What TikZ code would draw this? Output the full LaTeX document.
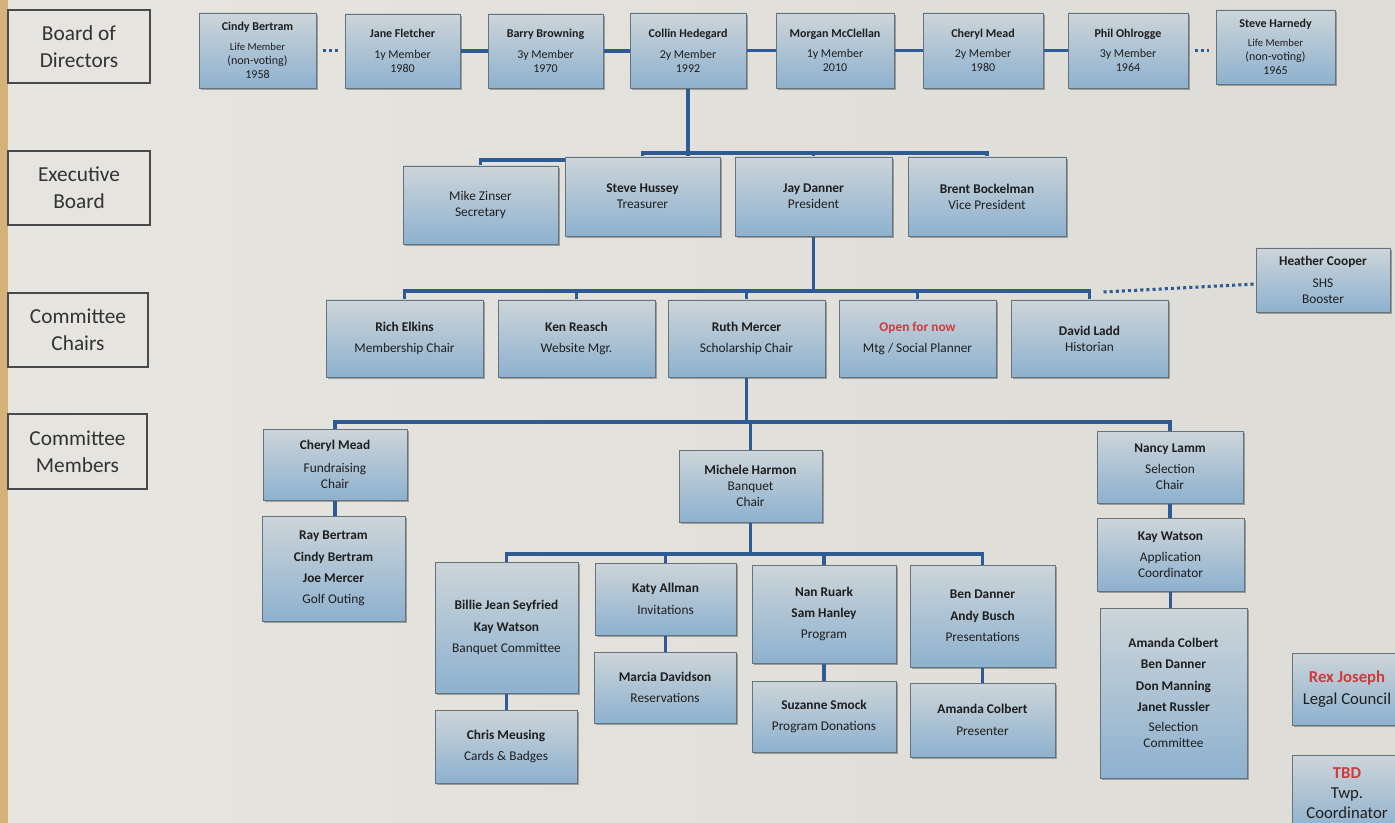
\documentclass[tikz,border=0pt]{standalone}
\usepackage{fontspec}
\setmainfont{Carlito}
\usetikzlibrary{calc}
\definecolor{bgl}{HTML}{E7E5E0}
\definecolor{bgr}{HTML}{DEDCD6}
\definecolor{gold}{HTML}{D4B279}
\definecolor{boxtop}{HTML}{CDD5D9}
\definecolor{boxbot}{HTML}{8DB1CF}
\definecolor{boxedge}{HTML}{66727C}
\definecolor{connc}{HTML}{2E5B94}
\definecolor{redc}{HTML}{D03A3A}
\definecolor{txt}{HTML}{1E1E1E}
\definecolor{lblfill}{HTML}{E6E4DF}
\definecolor{lbledge}{HTML}{4A4A4A}
\definecolor{lbltxt}{HTML}{333333}
\pgfdeclarelayer{bglayer}
\pgfdeclarelayer{shadowl}
\pgfdeclarelayer{lines}
\pgfsetlayers{bglayer,shadowl,lines,main}
\newcommand\Nm[1]{{\bfseries #1}}
\newcommand\Sm{\fontsize{8}{9.5}\selectfont}
\newcommand\OrgBox[7][]{%
  \pgfmathsetmacro\obw{(#5-#3)*0.75}%
  \pgfmathsetmacro\obh{(#6-#4)*0.75}%
  \begin{pgfonlayer}{shadowl}\fill[black,opacity=0.3] (#3+1.8,#4+1.8) rectangle (#5+1.8,#6+1.8);\end{pgfonlayer}%
  \node[orgbox,minimum width=\obw pt,minimum height=\obh pt,#1] (#2) at ({(#3+#5)/2},{(#4+#6)/2}) {#7};}
\newcommand\LblBox[6]{%
  \pgfmathsetmacro\obw{(#4-#2)*0.75}%
  \pgfmathsetmacro\obh{(#5-#3)*0.75}%
  \node[lblbox,minimum width=\obw pt,minimum height=\obh pt] (#1) at ({(#2+#4)/2},{(#3+#5)/2}) {#6};}
\tikzset{
  orgbox/.style={draw=boxedge, line width=0.6pt, top color=boxtop, bottom color=boxbot,
    inner sep=1pt, outer sep=0pt, align=center, text=txt, font=\fontsize{10}{12}\selectfont},
  rowone/.style={font=\fontsize{9}{10.5}\selectfont},
  bigtxt/.style={font=\fontsize{12.5}{15}\selectfont},
  lblbox/.style={draw=lbledge, line width=1pt, fill=lblfill, inner sep=0pt, outer sep=0pt,
    align=center, text=lbltxt, font=\fontsize{16}{20}\selectfont},
  conn/.style={draw=connc, line width=2.3pt},
  dotconn/.style={draw=connc, line width=2.3pt, dash pattern=on 2.3pt off 2.3pt},
}
\begin{document}
\begin{tikzpicture}[x=0.75pt,y=-0.75pt]
\useasboundingbox (0,0) rectangle (1395,823);
\begin{pgfonlayer}{bglayer}
  \fill[left color=bgl, right color=bgr] (0,0) rectangle (1395,823);
  \fill[gold] (0,0) rectangle (8,823);
\end{pgfonlayer}

% level labels
\LblBox{lblBoard}{8}{10}{150}{83}{Board of\\Directors}
\LblBox{lblExec}{8}{151}{150}{225}{Executive\\Board}
\LblBox{lblChairs}{8}{293}{148}{367}{Committee\\Chairs}
\LblBox{lblMembers}{8}{414}{147}{489}{Committee\\Members}

% board of directors
\OrgBox[rowone]{cindy}{199}{13}{316}{88}{\Nm{Cindy Bertram}\\[4pt]\Sm Life Member\\(non-voting)\\1958}
\OrgBox[rowone]{jane}{345}{14}{460}{88}{\Nm{Jane Fletcher}\\[5pt]1y Member\\1980}
\OrgBox[rowone]{barry}{488}{14}{603}{88}{\Nm{Barry Browning}\\[5pt]3y Member\\1970}
\OrgBox[rowone]{collin}{630}{13}{746}{88}{\Nm{Collin Hedegard}\\[5pt]2y Member\\1992}
\OrgBox[rowone]{morgan}{776}{13}{894}{88}{\Nm{Morgan McClellan}\\[5pt]1y Member\\2010}
\OrgBox[rowone]{cheryl}{923}{13}{1043}{88}{\Nm{Cheryl Mead}\\[5pt]2y Member\\1980}
\OrgBox[rowone]{phil}{1068}{13}{1188}{88}{\Nm{Phil Ohlrogge}\\[5pt]3y Member\\1964}
\OrgBox[rowone]{harnedy}{1216}{10}{1335}{84}{\Nm{Steve Harnedy}\\[4pt]\Sm Life Member\\(non-voting)\\1965}

% executive board
\OrgBox{mike}{403}{166}{558}{244}{Mike Zinser\\Secretary}
\OrgBox{hussey}{565}{157}{720}{236}{\Nm{Steve Hussey}\\Treasurer}
\OrgBox{jay}{735}{157}{892}{236}{\Nm{Jay Danner}\\President}
\OrgBox{brent}{908}{157}{1066}{236}{\Nm{Brent Bockelman}\\Vice President}

% committee chairs
\OrgBox{rich}{326}{300}{483}{377}{\Nm{Rich Elkins}\\[4pt]Membership Chair}
\OrgBox{ken}{498}{300}{655}{377}{\Nm{Ken Reasch}\\[4pt]Website Mgr.}
\OrgBox{ruth}{668}{300}{825}{377}{\Nm{Ruth Mercer}\\[4pt]Scholarship Chair}
\OrgBox{openn}{839}{300}{996}{377}{{\color{redc}\bfseries Open for now}\\[4pt]Mtg / Social Planner}
\OrgBox{david}{1011}{300}{1168}{377}{\Nm{David Ladd}\\Historian}
\OrgBox{heather}{1256}{248}{1390}{312}{\Nm{Heather Cooper}\\[4pt]SHS\\Booster}

% committee members
\OrgBox{cherylB}{263}{429}{407}{500}{\Nm{Cheryl Mead}\\[5pt]Fundraising\\Chair}
\OrgBox{ray}{262}{516}{405}{621}{\Nm{Ray Bertram}\\[4pt]\Nm{Cindy Bertram}\\[4pt]\Nm{Joe Mercer}\\[4pt]Golf Outing}
\OrgBox{michele}{679}{450}{822}{522}{\Nm{Michele Harmon}\\Banquet\\Chair}
\OrgBox{nancy}{1097}{431}{1243}{503}{\Nm{Nancy Lamm}\\[4pt]Selection\\Chair}
\OrgBox{kay}{1097}{518}{1244}{591}{\Nm{Kay Watson}\\[4pt]Application\\Coordinator}
\OrgBox{selcom}{1100}{608}{1247}{778}{\Nm{Amanda Colbert}\\[4pt]\Nm{Ben Danner}\\[4pt]\Nm{Don Manning}\\[4pt]\Nm{Janet Russler}\\[3pt]Selection\\Committee}

% banquet sub-committees
\OrgBox{billie}{435}{562}{578}{693}{\Nm{Billie Jean Seyfried}\\[4pt]\Nm{Kay Watson}\\[4pt]Banquet Committee}
\OrgBox{chris}{435}{710}{577}{783}{\Nm{Chris Meusing}\\[4pt]Cards \& Badges}
\OrgBox{katy}{595}{563}{736}{635}{\Nm{Katy Allman}\\[4pt]Invitations}
\OrgBox{marcia}{594}{652}{736}{723}{\Nm{Marcia Davidson}\\[4pt]Reservations}
\OrgBox{nan}{752}{565}{896}{663}{\Nm{Nan Ruark}\\[4pt]\Nm{Sam Hanley}\\[4pt]Program}
\OrgBox{suzanne}{752}{681}{896}{752}{\Nm{Suzanne Smock}\\[4pt]Program Donations}
\OrgBox{ben}{910}{565}{1055}{667}{\Nm{Ben Danner}\\[4pt]\Nm{Andy Busch}\\[4pt]Presentations}
\OrgBox{amanda}{910}{683}{1055}{757}{\Nm{Amanda Colbert}\\[4pt]Presenter}

% side boxes
\OrgBox[bigtxt]{rex}{1292}{653}{1402}{725}{{\color{redc}\bfseries Rex Joseph}\\[2pt]Legal Council}
\OrgBox[bigtxt]{tbd}{1292}{755}{1402}{832}{{\color{redc}\bfseries TBD}\\Twp.\\Coordinator}

\begin{pgfonlayer}{lines}
  % board row
  \draw[dotconn, shorten <=5pt, shorten >=5pt] (cindy.east) -- (cindy.east -| jane.west);
  \draw[conn] (jane.east) -- (jane.east -| barry.west);
  \draw[conn] (barry.east) -- (barry.east -| collin.west);
  \draw[conn] (collin.east) -- (collin.east -| morgan.west);
  \draw[conn] (morgan.east) -- (morgan.east -| cheryl.west);
  \draw[conn] (cheryl.east) -- (cheryl.east -| phil.west);
  \draw[dotconn, shorten <=5pt, shorten >=5pt] (phil.east) -- (phil.east -| harnedy.west);
  % executive
  \coordinate (eb) at ($(collin.south)+(0,65)$);
  \draw[conn] (collin.south) -- (eb);
  \draw[conn] (hussey.north) |- (eb);
  \draw[conn] (jay.north) |- (eb);
  \draw[conn] (brent.north) |- (eb);
  \draw[conn] (collin.south) |- ($(mike.north)+(0,-6)$) -- (mike.north);
  % chairs
  \coordinate (cb) at ($(jay.south)+(0,55)$);
  \draw[conn] (jay.south) -- (cb);
  \foreach \n in {rich,ken,ruth,openn,david} \draw[conn] (\n.north) |- (cb);
  \draw[dotconn] ($(david.north)+(14,-8)$) -- ($(heather.west)+(0,4)$);
  % members
  \coordinate (mb) at ($(ruth.south)+(0,45)$);
  \draw[conn] (ruth.south) -- (mb);
  \foreach \n in {cherylB,michele,nancy} \draw[conn] (\n.north) |- (mb);
  \draw[conn] (cherylB.south) -- (cherylB.south |- ray.north);
  \draw[conn] (nancy.south) -- (nancy.south |- kay.north);
  \draw[conn] (kay.south) -- (kay.south |- selcom.north);
  % banquet
  \coordinate (bb) at ($(michele.south)+(0,32)$);
  \draw[conn] (michele.south) -- (bb);
  \foreach \n in {billie,katy,nan,ben} \draw[conn] (\n.north) |- (bb);
  \draw[conn] (billie.south) -- (billie.south |- chris.north);
  \draw[conn] (katy.south) -- (katy.south |- marcia.north);
  \draw[conn] (nan.south) -- (nan.south |- suzanne.north);
  \draw[conn] (ben.south) -- (ben.south |- amanda.north);
\end{pgfonlayer}
\end{tikzpicture}
\end{document}
